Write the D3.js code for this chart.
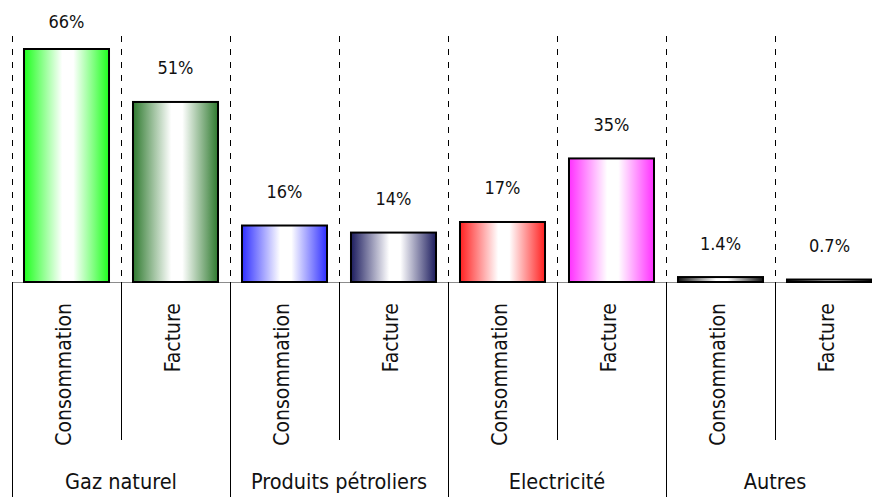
<!DOCTYPE html>
<html>
<head>
<meta charset="utf-8">
<script src="https://cdn.jsdelivr.net/npm/d3@7"></script>
<style>
  html, body { margin: 0; padding: 0; background: #fff; }
  svg { display: block; }
</style>
</head>
<body>
<svg id="chart" width="872" height="497"></svg>
<script>
// ---- data ----
const groups = ["Gaz naturel", "Produits pétroliers", "Electricité", "Autres"];
const subLabels = ["Consommation", "Facture"];
const consommation = [66, 16, 17, 1.4];
const facture = [51, 14, 35, 0.7];
const valueLabels = [["66%", "51%"], ["16%", "14%"], ["17%", "35%"], ["1.4%", "0.7%"]];
const barColors = [["#1eff1e", "#2f7a2f"], ["#2f2fff", "#1c1c5e"], ["#ff2020", "#ff30ff"], ["#111111", "#000000"]];

// build slots
const slots = [];
groups.forEach((g, gi) => {
  subLabels.forEach((s, si) => {
    slots.push({
      key: g + "|" + s,
      group: g, gi, si, sub: s,
      value: si === 0 ? consommation[gi] : facture[gi],
      label: valueLabels[gi][si],
      color: barColors[gi][si]
    });
  });
});

const FONT = "'DejaVu Sans Condensed', 'DejaVu Sans', Verdana, sans-serif";
const svg = d3.select("#chart");
const left = 12, right = 884, baseY = 282, topY = 49;

const x = d3.scaleBand().domain(slots.map(d => d.key)).range([left, right])
  .paddingInner(0.22).paddingOuter(0.11);
const xGroup = d3.scaleBand().domain(groups).range([left, right]).padding(0);
const y = d3.scaleLinear().domain([0, 66]).range([baseY, topY]);
const step = x.step();

// gradients
const defs = svg.append("defs");
slots.forEach((d, i) => {
  const gr = defs.append("linearGradient").attr("id", "g" + i)
    .attr("x1", "0%").attr("x2", "100%").attr("y1", "0%").attr("y2", "0%");
  gr.append("stop").attr("offset", "0%").attr("stop-color", d.color);
  gr.append("stop").attr("offset", "45%").attr("stop-color", "#ffffff");
  gr.append("stop").attr("offset", "58%").attr("stop-color", "#ffffff");
  gr.append("stop").attr("offset", "100%").attr("stop-color", d.color);
});

// dashed separators above baseline
const boundaries = slots.map(d => x(d.key) - x.step() * 0.11);
svg.append("g").selectAll("line").data(boundaries).join("line")
  .attr("x1", d => d + 0.5).attr("x2", d => d + 0.5)
  .attr("y1", 36).attr("y2", baseY)
  .attr("stroke", "#000").attr("stroke-width", 1)
  .attr("stroke-dasharray", "6,7");

// baseline
svg.append("line").attr("x1", left).attr("x2", 872).attr("y1", baseY + 0.5).attr("y2", baseY + 0.5)
  .attr("stroke", "#8c8c8c").attr("stroke-width", 1.2);

// lines below: group separators (full) and sub separators (short)
svg.append("g").selectAll("line").data(groups).join("line")
  .attr("x1", d => xGroup(d) + 0.5).attr("x2", d => xGroup(d) + 0.5)
  .attr("y1", baseY).attr("y2", 497)
  .attr("stroke", "#000").attr("stroke-width", 1);
svg.append("g").selectAll("line").data(groups).join("line")
  .attr("x1", d => xGroup(d) + step + 0.5).attr("x2", d => xGroup(d) + step + 0.5)
  .attr("y1", baseY).attr("y2", 440)
  .attr("stroke", "#000").attr("stroke-width", 1);

// bars
svg.append("g").selectAll("rect").data(slots).join("rect")
  .attr("x", d => x(d.key))
  .attr("width", x.bandwidth())
  .attr("y", d => y(d.value))
  .attr("height", d => Math.max(baseY - y(d.value), 1))
  .attr("fill", (d, i) => `url(#g${i})`)
  .attr("stroke", "#000").attr("stroke-width", 2);

// value labels
svg.append("g").selectAll("text").data(slots).join("text")
  .attr("x", d => x(d.key) + x.bandwidth() / 2)
  .attr("y", d => Math.max(y(d.value) - 27.5, 28))
  .attr("text-anchor", "middle")
  .attr("font-family", FONT)
  .attr("font-size", 18)
  .attr("fill", "#111")
  .text(d => d.label);

// rotated sub labels
svg.append("g").selectAll("text").data(slots).join("text")
  .attr("transform", d => `translate(${x(d.key) + x.bandwidth() / 2},303) rotate(-90)`)
  .attr("y", 4)
  .attr("text-anchor", "end")
  .attr("font-family", FONT)
  .attr("font-size", 21)
  .attr("fill", "#111")
  .text(d => d.sub);

// group labels
svg.append("g").selectAll("text").data(groups).join("text")
  .attr("x", d => xGroup(d) + xGroup.bandwidth() / 2)
  .attr("y", 489)
  .attr("text-anchor", "middle")
  .attr("font-family", FONT)
  .attr("font-size", 21.5)
  .attr("fill", "#111")
  .text(d => d);
</script>
</body>
</html>
